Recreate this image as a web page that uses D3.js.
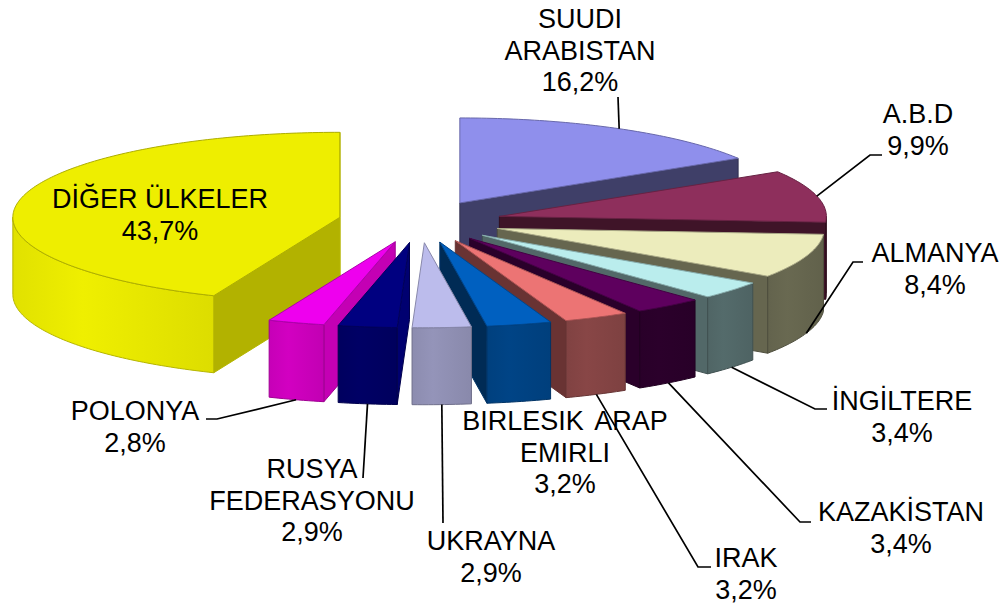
<!DOCTYPE html>
<html>
<head>
<meta charset="utf-8">
<script src="https://cdn.jsdelivr.net/npm/d3@7"></script>
<style>
  html, body { margin: 0; padding: 0; background: #fff; }
  text { font-family: "Liberation Sans", Arial, sans-serif; font-size: 27px; fill: #000; }
</style>
</head>
<body>
<div id="chart"></div>
<script>
// Data, in clockwise order from 12 o'clock
const categories = ["SUUDI ARABISTAN", "A.B.D", "ALMANYA", "İNGİLTERE", "KAZAKİSTAN", "IRAK",
  "BIRLESIK  ARAP EMIRLI", "UKRAYNA", "RUSYA FEDERASYONU", "POLONYA", "DİĞER ÜLKELER"];
const values = [16.2, 9.9, 8.4, 3.4, 3.4, 3.2, 3.2, 2.9, 2.9, 2.8, 43.7];

// Colours per slice: top face, cut face, rim face
const topColors = ["#8f8fec", "#8e2f5c", "#ececbc", "#baeded", "#5e005e", "#ec7474", "#0060c0", "#bcbcec", "#000080", "#ee00ee", "#eeee00"];
const cutColors = ["#3f3f68", "#3f1428", "#66664f", "#526868", "#2a002a", "#693333", "#002b55", "#8c8cb0", "#000070", "#c400b4", "#b2b200"];
const rimColors = ["#3f3f68", "#3f1428", "#66664f", "#526868", "#2a002a", "#844444", "#004282", "#9090b4", "#000062", "#cc00bc", "#e8e800"];

// Label layout: wrapped lines, centre x, first baseline y, leader elbow points
const labelLines = [["SUUDI", "ARABISTAN"], ["A.B.D"], ["ALMANYA"], ["İNGİLTERE"], ["KAZAKİSTAN"], ["IRAK"],
  ["BIRLESIK  ARAP", "EMIRLI"], ["UKRAYNA"], ["RUSYA", "FEDERASYONU"], ["POLONYA"], ["DİĞER ÜLKELER"]];
const labelX = [580, 918, 935, 902, 901, 746, 565, 491, 312, 135, 160];
const labelY = [28, 123, 262, 410, 521, 567, 430, 550, 478, 420, 208];
const leaderElbows = [
  [[618, 97]],
  [[882, 155], [870, 155]],
  [[863, 262], [853, 262]],
  [[827, 409], [815, 409]],
  [[811, 522], [800, 522]],
  [[711, 567], [698, 567]],
  null,
  [[443, 523]],
  [[363, 478]],
  [[206, 419], [217, 419]],
  null
];

const width = 1007, height = 607;
const centerX = 420, centerY = 221.5;
const radiusX = 327, radiusY = 85;
const depth = 77;      // extrusion height of the pie
const explode = 0.25;  // how far each slice is pulled out, as part of the radius
const lineGap = 31.5;

// Flattened pie plane: unit circle to screen
const x = d3.scaleLinear().domain([-1, 1]).range([centerX - radiusX, centerX + radiusX]);
const y = d3.scaleLinear().domain([-1, 1]).range([centerY - radiusY, centerY + radiusY]);

const svg = d3.select("#chart").append("svg")
  .attr("width", width)
  .attr("height", height)
  .style("display", "block");
const defs = svg.append("defs");

const pie = d3.pie().sort(null).value(function(d) { return d; });
const slices = pie(values).map(function(d, i) {
  const mid = (d.startAngle + d.endAngle) / 2;
  return {i: i, start: d.startAngle, end: d.endAngle, mid: mid, value: d.data,
    ox: explode * Math.sin(mid), oy: -explode * Math.cos(mid)};
});

const line = d3.line();

function apex(s, drop) {
  return [x(s.ox), y(s.oy) + (drop || 0)];
}
function rim(s, a, drop) {
  return [x(s.ox + Math.sin(a)), y(s.oy - Math.cos(a)) + (drop || 0)];
}
function arcPoints(s, a0, a1, drop) {
  const n = Math.max(2, Math.ceil((a1 - a0) * 60));
  return d3.range(n + 1).map(function(k) { return rim(s, a0 + (a1 - a0) * k / n, drop); });
}

// The rim gets a soft sideways shine
function rimGradient(s) {
  const id = "rim" + s.i;
  const base = d3.color(rimColors[s.i]);
  const g = defs.append("linearGradient").attr("id", id);
  g.append("stop").attr("offset", "0%").attr("stop-color", base.darker(0.08));
  g.append("stop").attr("offset", "35%").attr("stop-color", base.brighter(0.08));
  g.append("stop").attr("offset", "100%").attr("stop-color", base.darker(0.14));
  return "url(#" + id + ")";
}

function face(group, points, fill, stroke) {
  group.append("path")
    .attr("d", line(points) + "Z")
    .attr("fill", fill)
    .attr("stroke", stroke)
    .attr("stroke-width", 1)
    .attr("stroke-linejoin", "round");
}

// Back to front
const order = slices.slice().sort(function(a, b) { return Math.cos(b.mid) - Math.cos(a.mid); });

order.forEach(function(s) {
  const g = svg.append("g").attr("class", "slice");
  const edge = d3.color(rimColors[s.i]).darker(0.7);

  // cut faces that look towards the viewer
  if (Math.sin(s.start) < 0) {
    face(g, [apex(s), rim(s, s.start), rim(s, s.start, depth), apex(s, depth)], cutColors[s.i], edge);
  }
  if (Math.sin(s.end) > 0) {
    face(g, [apex(s), rim(s, s.end), rim(s, s.end, depth), apex(s, depth)], cutColors[s.i], edge);
  }

  // outer wall, front half only
  const a0 = Math.max(s.start, Math.PI / 2), a1 = Math.min(s.end, Math.PI * 1.5);
  if (a1 > a0) {
    const wall = arcPoints(s, a0, a1, 0).concat(arcPoints(s, a0, a1, depth).reverse());
    face(g, wall, rimGradient(s), edge);
  }

  // top face
  const top = [apex(s)].concat(arcPoints(s, s.start, s.end, 0));
  face(g, top, topColors[s.i], d3.color(topColors[s.i]).darker(0.9));
});

// Leader lines run from the elbow to the middle of the slice rim
slices.forEach(function(s) {
  const elbow = leaderElbows[s.i];
  if (!elbow) return;
  const front = Math.cos(s.mid) < 0 && Math.abs(s.mid - Math.PI) < Math.PI / 2;
  svg.append("path")
    .attr("d", line(elbow.concat([rim(s, s.mid, front ? depth : 0)])))
    .attr("fill", "none")
    .attr("stroke", "#000")
    .attr("stroke-width", 1.7);
});

// Labels
slices.forEach(function(s) {
  const lines = labelLines[s.i].concat([d3.format(".1f")(s.value).replace(".", ",") + "%"]);
  const t = svg.append("text")
    .attr("text-anchor", "middle")
    .attr("xml:space", "preserve")
    .style("white-space", "pre")
    .attr("y", labelY[s.i]);
  lines.forEach(function(l, k) {
    t.append("tspan")
      .attr("x", labelX[s.i])
      .attr("y", labelY[s.i] + k * lineGap)
      .attr("word-spacing", l.indexOf("  ") > 0 ? -1.5 : null)
      .text(l);
  });
});
</script>
</body>
</html>
